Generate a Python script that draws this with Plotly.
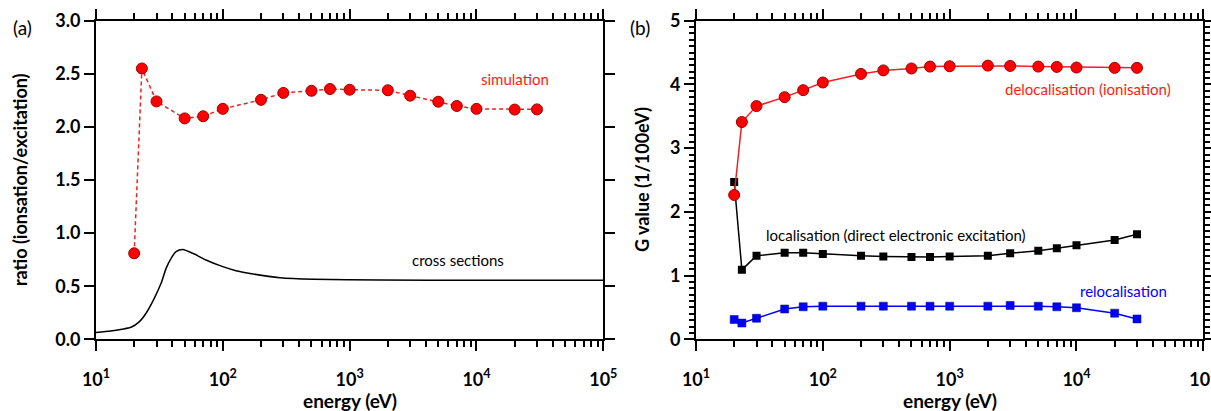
import plotly.graph_objects as go

# ---- data (panel a) ----
sim_energy = [20, 23, 30, 50, 70, 100, 200, 300, 500, 700, 1000, 2000, 3000, 5000, 7000, 10000, 20000, 30000]
sim_ratio = [0.81, 2.55, 2.24, 2.08, 2.10, 2.17, 2.255, 2.32, 2.34, 2.357, 2.35, 2.345, 2.294, 2.237, 2.197, 2.17, 2.163, 2.165]

xs_energy = [10, 13, 16, 18.9, 22, 24.8, 28.8, 32.6, 35.7, 39.1, 42.8, 48.3, 57.9, 73.6, 100, 127, 164, 282, 518, 1740, 10000, 100000]
xs_ratio = [0.064, 0.078, 0.095, 0.113, 0.166, 0.245, 0.386, 0.527, 0.668, 0.763, 0.825, 0.845, 0.81, 0.747, 0.684, 0.646, 0.62, 0.58, 0.565, 0.558, 0.556, 0.556]

# ---- data (panel b) ----
g_energy = [20, 23, 30, 50, 70, 100, 200, 300, 500, 700, 1000, 2000, 3000, 5000, 7000, 10000, 20000, 30000]
g_deloc = [2.265, 3.41, 3.66, 3.80, 3.91, 4.03, 4.165, 4.22, 4.25, 4.28, 4.285, 4.295, 4.29, 4.28, 4.275, 4.265, 4.26, 4.26]
g_loc = [2.47, 1.09, 1.31, 1.36, 1.36, 1.34, 1.31, 1.30, 1.29, 1.29, 1.30, 1.31, 1.35, 1.39, 1.43, 1.475, 1.56, 1.65]
g_reloc = [0.31, 0.255, 0.33, 0.475, 0.51, 0.52, 0.52, 0.52, 0.52, 0.52, 0.52, 0.52, 0.53, 0.52, 0.51, 0.495, 0.41, 0.32]

# ---- tick labels ----
x_tick_values = [10, 100, 1000, 10000, 100000]
x_tick_labels = ["10<sup>1</sup>", "10<sup>2</sup>", "10<sup>3</sup>", "10<sup>4</sup>", "10<sup>5</sup>"]

W, H = 1211, 411
FONT = "Lato"

fig = go.Figure()

fig.add_trace(go.Scatter(x=xs_energy, y=xs_ratio, mode="lines", line=dict(color="black", width=1.5, shape="spline", smoothing=0.6),
                         xaxis="x", yaxis="y", showlegend=False))
fig.add_trace(go.Scatter(x=sim_energy, y=sim_ratio, mode="lines+markers",
                         line=dict(color="#ee2222", width=1.5, dash="4px,3px"),
                         marker=dict(symbol="circle", size=11, color="#ff0000", line=dict(color="#a00000", width=1)),
                         xaxis="x", yaxis="y", showlegend=False))

fig.add_trace(go.Scatter(x=g_energy, y=g_reloc, mode="lines+markers", line=dict(color="#0000ff", width=1.5),
                         marker=dict(symbol="square", size=8, color="#0000ff", line=dict(color="#000080", width=0.5)),
                         xaxis="x2", yaxis="y2", showlegend=False))
fig.add_trace(go.Scatter(x=g_energy, y=g_loc, mode="lines+markers", line=dict(color="black", width=1.5),
                         marker=dict(symbol="square", size=8, color="black"),
                         xaxis="x2", yaxis="y2", showlegend=False))
fig.add_trace(go.Scatter(x=g_energy, y=g_deloc, mode="lines+markers", line=dict(color="#ee2222", width=1.5),
                         marker=dict(symbol="circle", size=11, color="#ff0000", line=dict(color="#a00000", width=1)),
                         xaxis="x2", yaxis="y2", showlegend=False))

ydom = [1 - 339.3 / H, 1 - 20.7 / H]
tickfont = dict(family=FONT, size=18, color="black", weight="bold")

def xaxis(dom, anchor):
    return dict(type="log", range=[1, 5], domain=dom, anchor=anchor,
                tickmode="array", tickvals=x_tick_values, ticktext=x_tick_labels,
                showline=True, linecolor="black", linewidth=2, mirror="ticks",
                ticks="outside", ticklen=10, tickwidth=2, tickcolor="black",
                minor=dict(dtick="D1", ticks="outside", ticklen=6, tickwidth=1.5, tickcolor="black", showgrid=False),
                showgrid=False, zeroline=False, tickfont=tickfont, ticklabelstandoff=13,
                ticklabeloverflow="allow", automargin=False)

def yaxis(anchor, rng, dtick, fmt, minor=None):
    d = dict(range=rng, domain=ydom, anchor=anchor, dtick=dtick, tickformat=fmt,
             showline=True, linecolor="black", linewidth=2, mirror="ticks",
             ticks="outside", ticklen=10, tickwidth=2, tickcolor="black",
             showgrid=False, zeroline=False, tickfont=tickfont, automargin=False)
    if minor:
        d["minor"] = minor
    return d

fig.update_layout(
    width=W, height=H, margin=dict(l=0, r=0, t=0, b=0),
    plot_bgcolor="white", paper_bgcolor="white",
    xaxis=xaxis([96 / W, 603.3 / W], "y"),
    yaxis=yaxis("x", [0, 3], 0.5, ".1f"),
    xaxis2=xaxis([696 / W, 1203.3 / W], "y2"),
    yaxis2=yaxis("x2", [0, 5], 1, "d",
                 minor=dict(dtick=0.1, ticks="outside", ticklen=5, tickwidth=1.5, tickcolor="black", showgrid=False)),
)

ann = []
def paper_text(x, y, text, size, bold=False, angle=0, color="black"):
    ann.append(dict(x=x / W, y=1 - y / H, xref="paper", yref="paper", text=text, showarrow=False,
                    textangle=angle, xanchor="center", yanchor="middle",
                    font=dict(family=FONT, size=size, color=color, weight="bold" if bold else "normal")))

def data_text(xr, yr, x, y, text, color, size=15):
    ann.append(dict(x=x, y=y, xref=xr, yref=yr, text=text, showarrow=False, xanchor="center", yanchor="middle",
                    font=dict(family=FONT, size=size, color=color)))

paper_text(22, 27, "(a)", 19)
paper_text(640, 27, "(b)", 19)
paper_text(20, 180, "ratio (ionsation/excitation)", 18, bold=True, angle=-90)
paper_text(642, 180, "G value (1/100eV)", 18, bold=True, angle=-90)
paper_text(350, 400, "energy (eV)", 19, bold=True)
paper_text(950, 400, "energy (eV)", 19, bold=True)

data_text("x", "y", 4.30, 2.45, "simulation", "#ff1a1a")
data_text("x", "y", 3.855, 0.747, "cross sections", "black")
data_text("x2", "y2", 4.09, 3.93, "delocalisation (ionisation)", "#ff1a1a")
data_text("x2", "y2", 2.577, 1.64, "localisation (direct electronic excitation)", "black")
data_text("x2", "y2", 4.37, 0.763, "relocalisation", "#0000ff")

fig.update_layout(annotations=ann)
fig.write_html("out.html", config={"displayModeBar": False},
               post_script="document.body.style.margin='0';document.body.style.padding='0';")
